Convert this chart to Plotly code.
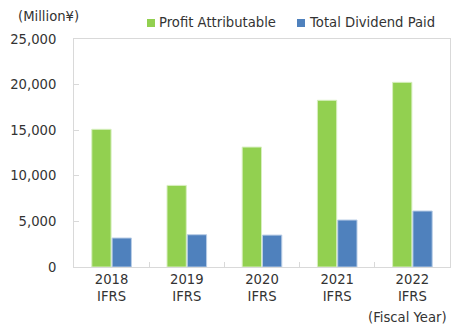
import plotly.graph_objects as go

years = ["2018<br>IFRS", "2019<br>IFRS", "2020<br>IFRS", "2021<br>IFRS", "2022<br>IFRS"]
profit = [15100, 8950, 13150, 18280, 20250]
dividend = [3180, 3540, 3500, 5150, 6140]
series_names = ["Profit Attributable", "Total Dividend Paid"]
series_colors = ["#92D050", "#4F81BD"]
y_ticks = [0, 5000, 10000, 15000, 20000, 25000]
y_labels = ["0", "5,000", "10,000", "15,000", "20,000", "25,000"]

FONT = "DejaVu Sans"
TXT = "#333333"
FS = 13.2

# plot area in px
L, R, T, B = 74, 5, 39, 63
W, H = 455, 330
PW, PH = W - L - R, H - T - B

def px_x(x):
    return (x - L) / PW

def px_y(y):
    return (H - B - y) / PH

fig = go.Figure()
fig.add_trace(go.Bar(x=years, y=profit, name=series_names[0],
                     marker=dict(color=series_colors[0], line=dict(color="#d8efc0", width=1))))
fig.add_trace(go.Bar(x=years, y=dividend, name=series_names[1],
                     marker=dict(color=series_colors[1], line=dict(color="#b9cde6", width=1))))

fig.update_layout(
    width=W, height=H,
    margin=dict(l=L, r=R, t=T, b=B),
    paper_bgcolor="white", plot_bgcolor="white",
    font=dict(family=FONT, size=FS, color=TXT),
    barmode="group", bargap=0.46, bargroupgap=0.05,
    showlegend=False,
    xaxis=dict(showline=True, linecolor="#d9d9d9", linewidth=1, mirror=True,
               ticks="inside", ticklen=5, tickcolor="#d9d9d9", tickson="boundaries",
               showgrid=False, tickfont=dict(size=FS, color=TXT)),
    yaxis=dict(range=[0, 25000], tickvals=y_ticks, ticktext=y_labels,
               showline=True, linecolor="#d9d9d9", linewidth=1, mirror=True,
               ticks="inside", ticklen=5, tickcolor="#d9d9d9",
               showgrid=False, zeroline=False, ticklabelstandoff=14,
               tickfont=dict(size=FS, color=TXT)),
)

# legend (custom, to match compact swatch spacing)
leg = [(147, series_names[0], series_colors[0]), (297, series_names[1], series_colors[1])]
for x0, name, col in leg:
    fig.add_shape(type="rect", xref="paper", yref="paper",
                  x0=px_x(x0), x1=px_x(x0 + 8), y0=px_y(27), y1=px_y(19),
                  fillcolor=col, line=dict(width=0))
    fig.add_annotation(text=name, xref="paper", yref="paper", x=px_x(x0 + 10), y=px_y(22.5),
                       xanchor="left", yanchor="middle", showarrow=False,
                       font=dict(size=FS, color=TXT))

fig.add_annotation(text="(Million¥)", xref="paper", yref="paper", x=px_x(16), y=px_y(16),
                   xanchor="left", yanchor="middle", showarrow=False,
                   font=dict(size=FS, color=TXT))
fig.add_annotation(text="(Fiscal Year)", xref="paper", yref="paper", x=px_x(449), y=px_y(317),
                   xanchor="right", yanchor="middle", showarrow=False,
                   font=dict(size=FS, color=TXT))

fig.write_html("out.html")
